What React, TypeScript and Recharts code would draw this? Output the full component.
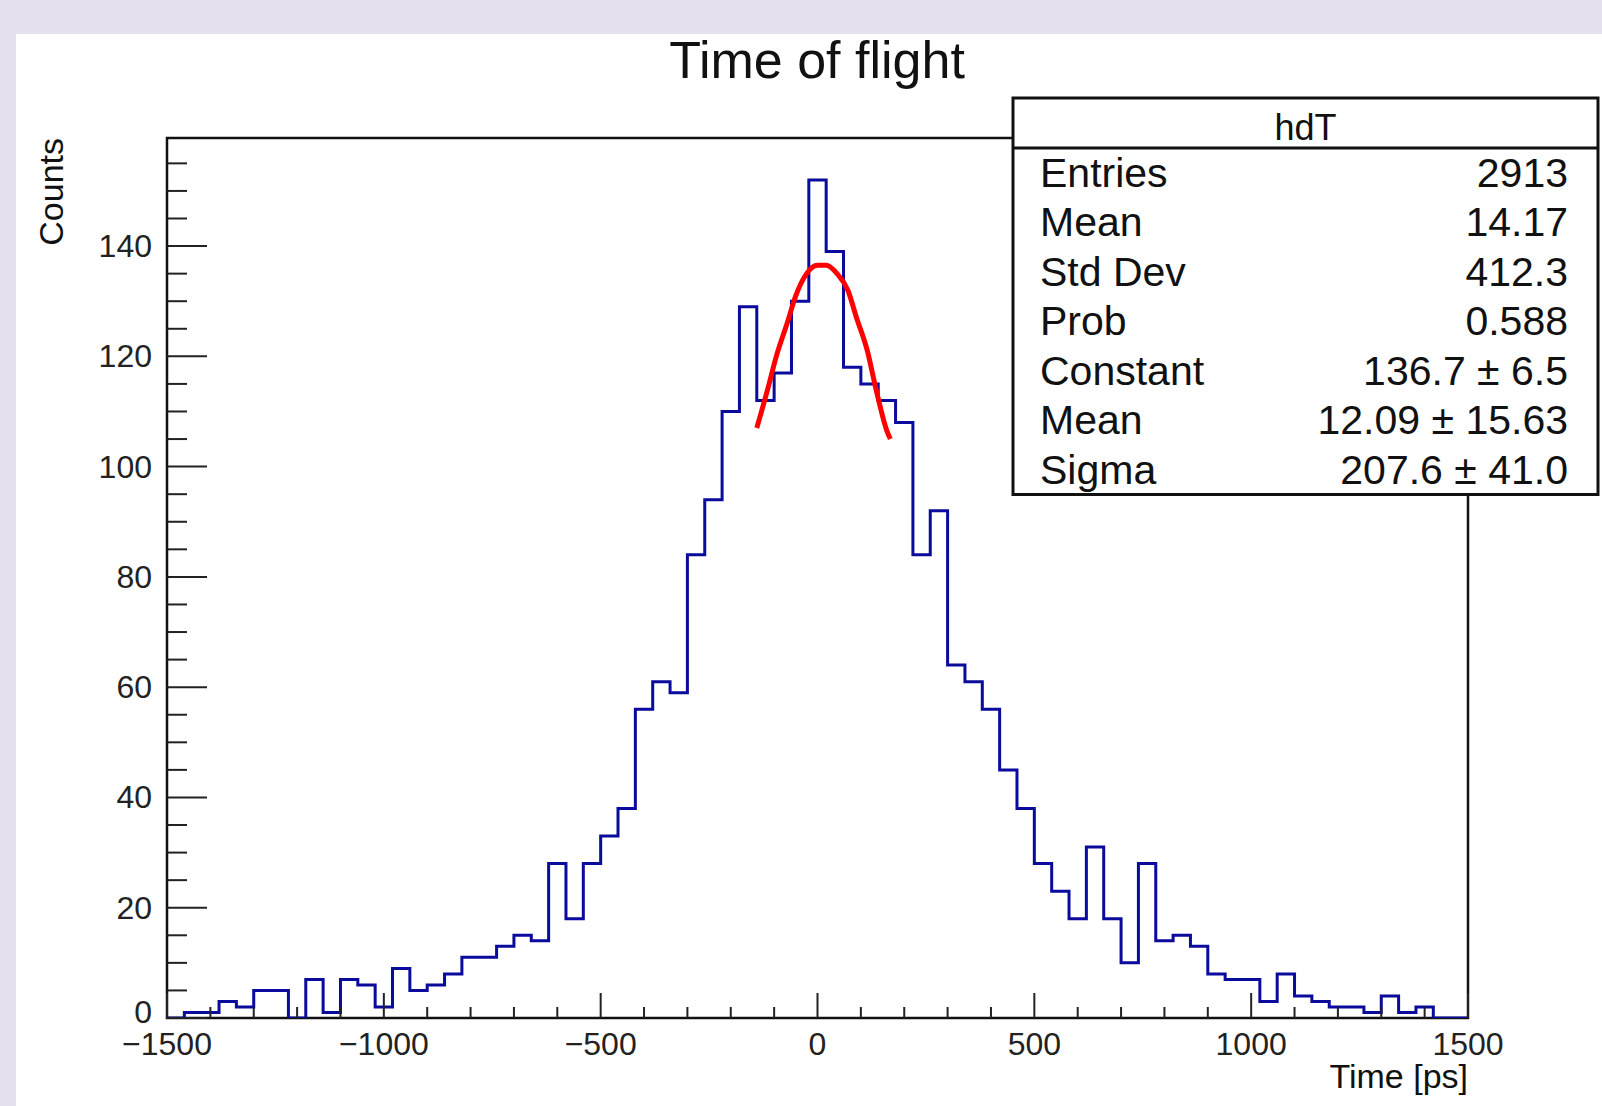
import React from 'react';
import { ComposedChart, Line, XAxis, YAxis, ReferenceArea } from 'recharts';

// histogram hdT: 75 bins of 40 ps from -1500 to 1500
const binStart = -1500;
const binWidth = 40;
const binCounts = [
  0, 1, 1, 3, 2, 5, 5, 0, 7, 1,
  7, 6, 2, 9, 5, 6, 8, 11, 11, 13,
  15, 14, 28, 18, 28, 33, 38, 56, 61, 59,
  84, 94, 110, 129, 112, 117, 130, 152, 139, 118,
  115, 112, 108, 84, 92, 64, 61, 56, 45, 38,
  28, 23, 18, 31, 18, 10, 28, 14, 15, 13,
  8, 7, 7, 3, 8, 4, 3, 2, 2, 1,
  4, 1, 2, 0, 0,
];

// gaus fit curve
const fitTime = [-140, -115, -95, -70, -50, -25, 0, 20, 45, 70, 90, 115, 135, 160, 168];
const fitValue = [107, 114, 120, 126, 131, 135, 136.5, 136.5, 135, 132, 127, 121, 114, 106.5, 105];

const xTicks = [
  -1500, -1400, -1300, -1200, -1100, -1000, -900, -800, -700, -600,
  -500, -400, -300, -200, -100, 0, 100, 200, 300, 400,
  500, 600, 700, 800, 900, 1000, 1100, 1200, 1300, 1400, 1500,
];
const xLabels = [-1500, -1000, -500, 0, 500, 1000, 1500];
const yTicks = [
  0, 5, 10, 15, 20, 25, 30, 35, 40, 45, 50, 55, 60, 65, 70, 75,
  80, 85, 90, 95, 100, 105, 110, 115, 120, 125, 130, 135, 140, 145, 150, 155,
];
const yLabels = [0, 20, 40, 60, 80, 100, 120, 140];
const yMax = 159.6;

const statNames = ['Entries', 'Mean', 'Std Dev', 'Prob', 'Constant', 'Mean', 'Sigma'];
const statValues = ['2913', '14.17', '412.3', '0.588', '136.7 \u00b1 6.5', '12.09 \u00b1 15.63', '207.6 \u00b1 41.0'];

const histData = binCounts.map((n, i) => ({ t: binStart + i * binWidth, n }));
histData.push({ t: binStart + binCounts.length * binWidth, n: binCounts[binCounts.length - 1] });
const fitData = fitTime.map((t, i) => ({ t, n: fitValue[i] }));

const FONT = '"Liberation Sans", Arial, Helvetica, sans-serif';
const fmt = (v: number) => (v < 0 ? '\u2212' + Math.abs(v) : String(v));

const XTick = (props: any) => {
  const { x, y, payload } = props;
  const major = xLabels.includes(payload.value);
  return (
    <g>
      <line x1={x} x2={x} y1={y} y2={y - (major ? 25 : 11)} stroke="#222" strokeWidth={2} />
      {major && (
        <text x={x} y={y + 37} textAnchor="middle" fontSize={32} fontFamily={FONT} fill="#222">
          {fmt(payload.value)}
        </text>
      )}
    </g>
  );
};

const YTick = (props: any) => {
  const { x, y, payload } = props;
  const major = yLabels.includes(payload.value);
  // the bottom "0" is lifted a little so it does not run into the -1500 label
  const dy = payload.value === 0 ? 5 : 11;
  return (
    <g>
      <line x1={x} x2={x + (major ? 40 : 20)} y1={y} y2={y} stroke="#222" strokeWidth={2} />
      {major && (
        <text x={x - 15} y={y + dy} textAnchor="end" fontSize={32} fontFamily={FONT} fill="#222">
          {payload.value}
        </text>
      )}
    </g>
  );
};

export default function App() {
  const boxL = 1013;
  const boxR = 1598;
  const boxT = 98;
  const headB = 148;
  const rowH = 49.5;
  return (
    <div style={{ position: 'absolute', left: 0, top: 0, width: 1602, height: 1106, background: '#e5e0ec', overflow: 'hidden' }}>
      <div style={{ position: 'absolute', left: 16, top: 34, right: 0, bottom: 0, background: '#fff' }} />
      <div style={{ position: 'absolute', left: 0, top: 0 }}>
        <ComposedChart width={1602} height={1106} margin={{ top: 138, right: 134, bottom: 48, left: 107 }}>
          <XAxis
            dataKey="t"
            type="number"
            domain={[-1500, 1500]}
            ticks={xTicks}
            interval={0}
            height={40}
            tickSize={0}
            tickMargin={0}
            axisLine={false}
            tick={<XTick />}
            allowDataOverflow
          />
          <YAxis
            type="number"
            domain={[0, yMax]}
            ticks={yTicks}
            interval={0}
            width={60}
            tickSize={0}
            tickMargin={0}
            axisLine={false}
            tick={<YTick />}
            allowDataOverflow
          />
          <ReferenceArea x1={-1500} x2={1500} y1={0} y2={yMax} fill="none" stroke="#111" strokeWidth={2.5} />
          <Line
            data={histData}
            dataKey="n"
            type="stepAfter"
            stroke="#0a0a9c"
            strokeWidth={3}
            dot={false}
            activeDot={false}
            isAnimationActive={false}
          />
          <Line
            data={fitData}
            dataKey="n"
            type="monotone"
            stroke="#ff0000"
            strokeWidth={5}
            dot={false}
            activeDot={false}
            isAnimationActive={false}
          />
        </ComposedChart>
      </div>
      <svg width={1602} height={1106} style={{ position: 'absolute', left: 0, top: 0, pointerEvents: 'none' }}>
        <text x={817} y={78} textAnchor="middle" fontSize={52} fontFamily={FONT} fill="#111">
          Time of flight
        </text>
        <text transform="translate(63,138) rotate(-90)" textAnchor="end" fontSize={34} fontFamily={FONT} fill="#111">
          Counts
        </text>
        <text x={1468} y={1088} textAnchor="end" fontSize={34} fontFamily={FONT} fill="#111">
          Time [ps]
        </text>
        <rect x={boxL} y={boxT} width={boxR - boxL} height={headB - boxT + rowH * statNames.length} fill="#fff" stroke="#111" strokeWidth={3} />
        <line x1={boxL} x2={boxR} y1={headB} y2={headB} stroke="#111" strokeWidth={3} />
        <text x={(boxL + boxR) / 2} y={140} textAnchor="middle" fontSize={36} fontFamily={FONT} fill="#111">
          hdT
        </text>
        {statNames.map((name, i) => (
          <g key={i}>
            <text x={boxL + 27} y={headB + rowH * i + rowH / 2 + 14} fontSize={41} fontFamily={FONT} fill="#111">
              {name}
            </text>
            <text x={boxR - 30} y={headB + rowH * i + rowH / 2 + 14} textAnchor="end" fontSize={41} fontFamily={FONT} fill="#111">
              {statValues[i]}
            </text>
          </g>
        ))}
      </svg>
    </div>
  );
}
